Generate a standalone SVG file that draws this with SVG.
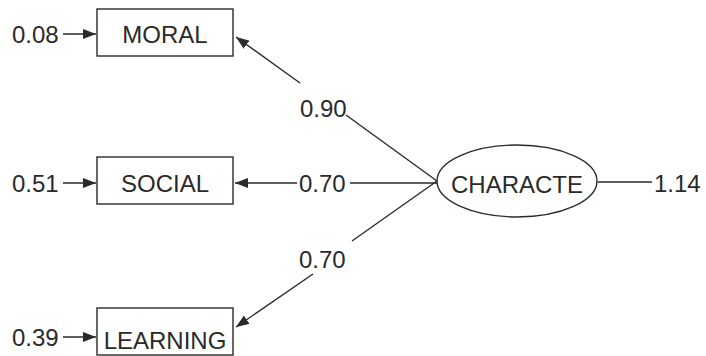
<svg xmlns="http://www.w3.org/2000/svg" width="706" height="356" viewBox="0 0 706 356">
<style>
text{font-family:"Liberation Sans",Arial,sans-serif;font-size:24px;fill:#2a2a2a;}
.box{fill:#fff;stroke:#2a2a2a;stroke-width:1.4;}
.ln{stroke:#2a2a2a;stroke-width:1.4;fill:none;}
</style>
<defs>
<marker id="ah" viewBox="0 0 13 10" refX="13" refY="5" markerWidth="13" markerHeight="10" markerUnits="userSpaceOnUse" orient="auto">
<path d="M0,0 L13,5 L0,10 Z" fill="#2a2a2a"/>
</marker>
</defs>
<rect width="706" height="356" fill="#fff"/>
<g id="connectors">
<line class="ln" x1="63" y1="34" x2="96" y2="34" marker-end="url(#ah)"/>
<line class="ln" x1="63" y1="183" x2="96" y2="183" marker-end="url(#ah)"/>
<line class="ln" x1="63" y1="337" x2="96" y2="337" marker-end="url(#ah)"/>
<line class="ln" x1="300" y1="83" x2="236" y2="37" marker-end="url(#ah)"/>
<line class="ln" x1="437" y1="181" x2="346" y2="115"/>
<line class="ln" x1="297" y1="183" x2="235" y2="183" marker-end="url(#ah)"/>
<line class="ln" x1="437" y1="183" x2="350" y2="183"/>
<line class="ln" x1="313" y1="274" x2="236" y2="327" marker-end="url(#ah)"/>
<line class="ln" x1="437" y1="181" x2="352" y2="241"/>
<line class="ln" x1="598" y1="182" x2="652" y2="182"/>
</g>
<g id="moral">
<rect class="box" x="97" y="9" width="136" height="47"/>
<text x="165" y="43" text-anchor="middle">MORAL</text>
</g>
<g id="social">
<rect class="box" x="97" y="157" width="136" height="47"/>
<text x="165" y="192" text-anchor="middle">SOCIAL</text>
</g>
<g id="learning">
<rect class="box" x="97" y="308" width="136" height="47"/>
<text x="165" y="349" text-anchor="middle">LEARNING</text>
</g>
<g id="characte">
<ellipse class="box" cx="517" cy="181" rx="80" ry="36"/>
<text x="517" y="193" text-anchor="middle">CHARACTE</text>
</g>
<g id="labels">
<text x="12" y="43">0.08</text>
<text x="12" y="192">0.51</text>
<text x="12" y="346">0.39</text>
<text x="300" y="117">0.90</text>
<text x="299" y="192">0.70</text>
<text x="299" y="268">0.70</text>
<text x="654" y="192">1.14</text>
</g>
</svg>
